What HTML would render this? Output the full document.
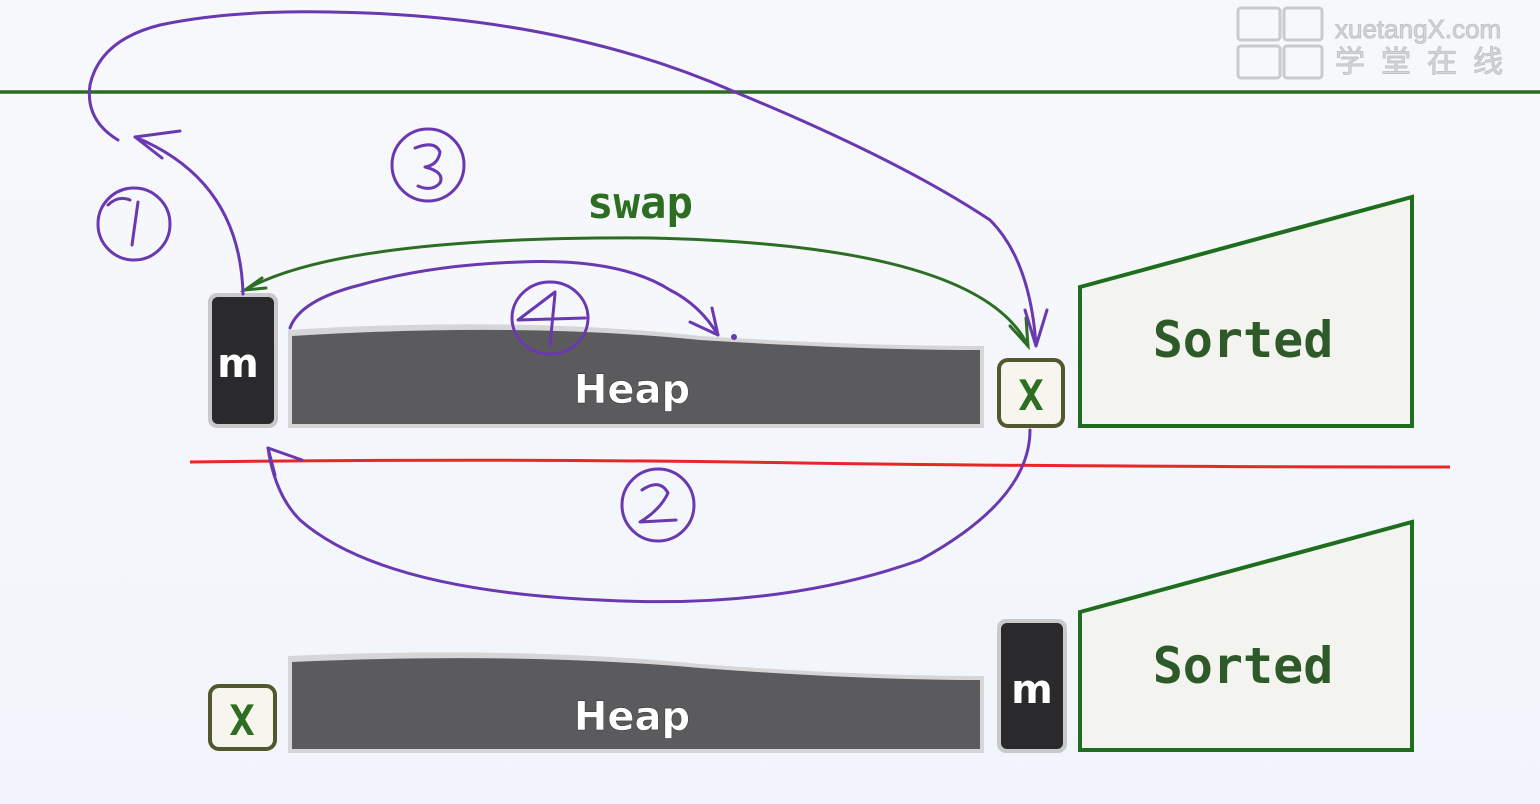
<!DOCTYPE html>
<html><head><meta charset="utf-8"><style>
html,body{margin:0;padding:0;background:#f3f6fb;}
svg{display:block}
</style></head><body>
<svg width="1540" height="804" viewBox="0 0 1540 804" xmlns="http://www.w3.org/2000/svg">
<defs>
<linearGradient id="bg" x1="0" y1="0" x2="0" y2="1"><stop offset="0" stop-color="#f7f8fb"/><stop offset="1" stop-color="#f1f5fb"/></linearGradient>
</defs>
<rect width="1540" height="804" fill="url(#bg)"/>
<g fill="none" stroke="#c8cacd" stroke-width="3">
<rect x="1238" y="8" width="42" height="32" rx="3"/><rect x="1284" y="8" width="38" height="32" rx="3"/>
<rect x="1238" y="46" width="42" height="32" rx="3"/><rect x="1284" y="46" width="38" height="32" rx="3"/>
</g>
<text x="1335" y="38" font-family="Liberation Sans, sans-serif" font-size="26" fill="#d4d6d9" stroke="#c2c4c8" stroke-width="1">xuetangX.com</text>
<text x="1335" y="72" font-family="Liberation Sans, Noto Sans CJK SC, sans-serif" font-size="30" letter-spacing="16" fill="#d4d6d9" stroke="#c2c4c8" stroke-width="1">学堂在线</text>
<line x1="0" y1="92" x2="1540" y2="92" stroke="#2d6a22" stroke-width="3.5"/>
<rect x="208" y="293" width="70" height="135" rx="9" fill="#c9c9cc"/>
<rect x="212" y="297" width="62" height="127" rx="6" fill="#2a2a2d"/>
<text x="238" y="377" text-anchor="middle" font-family="DejaVu Sans, sans-serif" font-weight="bold" font-size="40" fill="#fff">m</text>
<path d="M288 330 Q520 316 700 336 Q860 346 984 346 L984 428 L288 428 Z" fill="#d6d6d8"/>
<path d="M292 336 Q520 322 700 340 Q860 350 980 350 L980 424 L292 424 Z" fill="#5b5a5c"/>
<text x="632" y="403" text-anchor="middle" font-family="DejaVu Sans, sans-serif" font-weight="bold" font-size="40" fill="#fff" stroke="#333" stroke-width="0.5">Heap</text>
<rect x="999" y="360" width="64" height="66" rx="9" fill="#f6f6ee" stroke="#51582e" stroke-width="4"/>
<text x="1031" y="410" text-anchor="middle" font-family="DejaVu Sans Mono, monospace" font-weight="bold" font-size="42" fill="#2e6e22">X</text>
<polygon points="1080,287 1412,197 1412,426 1080,426" fill="#f3f3ef" stroke="#1f6e1f" stroke-width="4"/>
<text x="1243" y="357" text-anchor="middle" font-family="DejaVu Sans Mono, monospace" font-weight="bold" font-size="50" fill="#2e5a2a">Sorted</text>
<path d="M190 462 Q500 458 800 463 Q1100 467 1450 467" fill="none" stroke="#e8262a" stroke-width="3"/>
<rect x="210" y="686" width="65" height="63" rx="9" fill="#f6f6ee" stroke="#51582e" stroke-width="4"/>
<text x="242" y="735" text-anchor="middle" font-family="DejaVu Sans Mono, monospace" font-weight="bold" font-size="42" fill="#2e6e22">X</text>
<path d="M288 656 Q520 646 700 664 Q860 676 984 676 L984 753 L288 753 Z" fill="#d6d6d8"/>
<path d="M292 662 Q520 652 700 668 Q860 680 980 680 L980 749 L292 749 Z" fill="#5b5a5c"/>
<text x="632" y="730" text-anchor="middle" font-family="DejaVu Sans, sans-serif" font-weight="bold" font-size="40" fill="#fff" stroke="#333" stroke-width="0.5">Heap</text>
<rect x="997" y="619" width="70" height="134" rx="9" fill="#c9c9cc"/>
<rect x="1001" y="623" width="62" height="126" rx="6" fill="#2a2a2d"/>
<text x="1032" y="703" text-anchor="middle" font-family="DejaVu Sans, sans-serif" font-weight="bold" font-size="40" fill="#fff">m</text>
<polygon points="1080,612 1412,522 1412,750 1080,750" fill="#f3f3ef" stroke="#1f6e1f" stroke-width="4"/>
<text x="1243" y="683" text-anchor="middle" font-family="DejaVu Sans Mono, monospace" font-weight="bold" font-size="50" fill="#2e5a2a">Sorted</text>
<text x="640" y="218" text-anchor="middle" font-family="DejaVu Sans Mono, monospace" font-weight="bold" font-size="44" fill="#2e6e22">swap</text>
<g fill="none" stroke="#2c6e24" stroke-width="3" stroke-linecap="round">
<path d="M1028 346 Q980 245 650 238 Q340 236 245 290"/>
<path d="M1010 326 L1028 346 L1026 318"/>
<path d="M262 278 L245 290 L266 288"/>
</g>
<g fill="none" stroke="#6a38b0" stroke-width="3" stroke-linecap="round" stroke-linejoin="round">
<path d="M243 294 Q240 180 135 137"/>
<path d="M180 131 L135 137 L162 158"/>
<path d="M118 140 Q85 120 90 85 Q100 40 160 25 Q230 10 330 12 Q560 15 735 92 Q900 160 990 220 Q1030 260 1036 345"/>
<path d="M1025 310 L1036 346 L1047 310"/>
<path d="M1030 430 Q1030 500 920 560 Q780 610 600 600 Q380 590 300 520 Q275 495 268 448"/>
<path d="M268 448 L275 475 M268 448 L302 460"/>
<path d="M290 328 Q300 300 360 285 Q430 265 520 262 Q620 258 670 290 Q700 305 718 335"/>
<path d="M690 322 L718 335 L712 308"/>
<circle cx="134" cy="224" r="36"/><path d="M108 205 Q118 195 130 200 M138 202 L132 245"/>
<circle cx="428" cy="165" r="36"/><path d="M415 148 Q435 140 440 152 Q438 165 425 167 Q445 172 440 183 Q432 192 418 186"/>
<circle cx="658" cy="505" r="36"/><path d="M642 490 Q660 478 668 493 Q660 510 640 522 L676 520"/>
<ellipse cx="550" cy="318" rx="38" ry="36"/><path d="M555 292 L518 320 L585 318 M555 294 L550 345"/>
<circle cx="734" cy="337" r="1.5"/>
</g>
</svg>
</body></html>
